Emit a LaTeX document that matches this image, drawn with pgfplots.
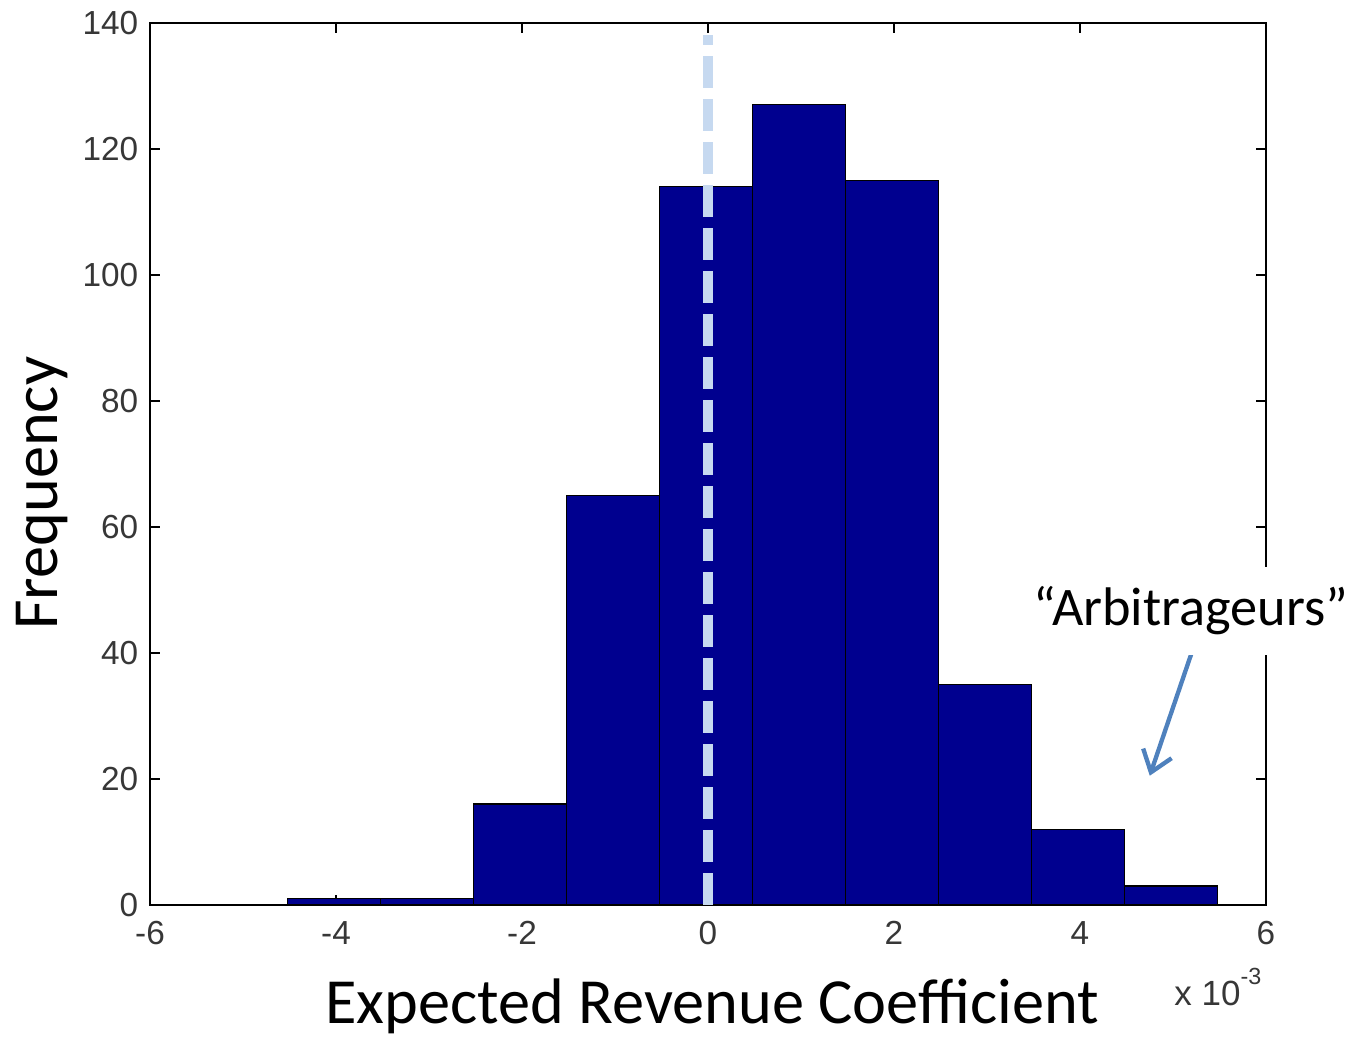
\documentclass[border=0pt]{standalone}
\usepackage{pgfplots}
\pgfplotsset{compat=1.18}
\usepackage{fontspec}
\setmainfont{Carlito}
\newfontfamily\tickfont{Liberation Sans}
\usetikzlibrary{arrows.meta}
\definecolor{barblue}{RGB}{0,0,143}
\definecolor{dashblue}{RGB}{198,217,240}
\definecolor{arrowblue}{RGB}{79,129,189}
\definecolor{tickgray}{RGB}{55,55,55}
\begin{document}
\begin{tikzpicture}
\begin{axis}[
  name=ax,
  scale only axis,
  width=334.8pt, height=264.6pt,
  xmin=-6, xmax=6, ymin=0, ymax=140,
  xtick={-6,-4,...,6}, ytick={0,20,...,140},
  tick align=inside,
  major tick length=3pt,
  tick style={black, line width=0.5pt},
  axis line style={black, line width=0.6pt},
  ticklabel style={font=\tickfont\fontsize{10}{12}\selectfont, text=tickgray},
  xticklabel style={yshift=-1.5pt},
  /pgf/number format/assume math mode=true,
  clip=false,
]
\addplot[ybar interval, fill=barblue, draw=black, line width=0.4pt] coordinates {
  (-4.52,1) (-3.52,1) (-2.52,16) (-1.52,65) (-0.52,114) (0.48,127)
  (1.48,115) (2.48,35) (3.48,12) (4.48,3) (5.48,3)
};
\addplot[dashblue, line width=3pt, dash pattern=on 9.6pt off 3.3pt] coordinates {(0,0) (0,138)};
\coordinate (arrA) at (axis cs:5.20,40);
\coordinate (arrB) at (axis cs:4.75,20.5);
\end{axis}
\draw[arrowblue, line width=1.3pt, -{Straight Barb[length=6pt,width=9pt]}] (arrA) -- (arrB);
\node[fill=white, inner xsep=1pt, inner ysep=6pt, anchor=base, font=\fontsize{16.3}{19}\selectfont]
  at ([shift={(312.3pt,83.7pt)}]ax.south west) {“Arbitrageurs”};
\node[rotate=90, anchor=base, font=\fontsize{19.3}{22}\selectfont]
  at ([shift={(-27.6pt,123.5pt)}]ax.south west) {Frequency};
\node[anchor=base, font=\fontsize{19.3}{22}\selectfont]
  at ([shift={(168.6pt,-35.7pt)}]ax.south west) {Expected Revenue Coefficient};
\node[anchor=base east, inner sep=0pt, text=tickgray, font=\tickfont\fontsize{10.5}{12}\selectfont]
  at ([shift={(-1.2pt,-30.3pt)}]ax.south east) {x 10\raisebox{6.5pt}{\fontsize{7}{7}\selectfont -3}};
\path ([shift={(-45pt,-39.3pt)}]ax.south west) rectangle ([shift={(26.1pt,6.6pt)}]ax.north east);
\end{tikzpicture}
\end{document}
